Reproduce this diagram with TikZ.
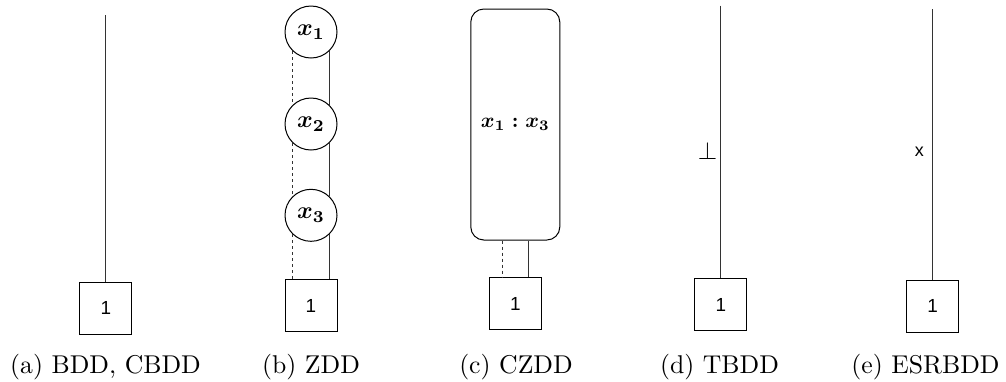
\documentclass[tikz,border=0pt]{standalone}
\usepackage{amsmath}
\usepackage{fontspec}
\newfontfamily\lsans{Liberation Sans}
\usetikzlibrary{calc}
\newcommand{\capt}[1]{\scalebox{2.58}{\fontsize{10}{12}\selectfont #1}}
\newcommand{\mlab}[2]{\scalebox{#1}{\fontsize{10}{12}\selectfont$\boldsymbol{#2}$}}
\tikzset{
  edgeline/.style={line width=1.1bp, draw=black!80},
  dashline/.style={edgeline, dash pattern=on 3bp off 3bp},
  termbox/.style={draw, line width=1bp, minimum width=52bp, minimum height=52bp, inner sep=0pt, font=\lsans\fontsize{19}{21}\selectfont},
  varnode/.style={draw, circle, line width=1bp, minimum size=52bp, inner sep=0pt},
  chainbox/.style={draw, rounded corners=13bp, line width=1bp, minimum width=89bp, minimum height=231bp, inner sep=0pt},
  caption/.style={anchor=base, inner sep=0pt},
  edgelabel/.style={inner sep=0pt}
}
\begin{document}
\begin{tikzpicture}[x=1bp, y=-1bp]
\useasboundingbox (0,0) rectangle (1006,381);
% (a)
\node[termbox] (ta) at (105.8,308.3) {1};
\coordinate (topa) at (105.8,15);
\draw[edgeline] (topa) -- (ta.north);
\node[caption] (capa) at (105.5,373.5) {\capt{(a) BDD, CBDD}};
% (b)
\node[varnode] (x1) at (311,32) {\mlab{2.4}{x_1}};
\node[varnode] (x2) at (311,124) {\mlab{2.4}{x_2}};
\node[varnode] (x3) at (311,215.3) {\mlab{2.4}{x_3}};
\node[termbox] (tb) at (311,305.5) {1};
\draw[dashline] (x1.226) -- (x2.134);
\draw[edgeline] (x1.-46) -- (x2.46);
\draw[dashline] (x2.226) -- (x3.134);
\draw[edgeline] (x2.-46) -- (x3.46);
\draw[dashline] (x3.226) -- (x3.226 |- tb.north);
\draw[edgeline] (x3.-46) -- (x3.-46 |- tb.north);
\node[caption] (capb) at (311,373.5) {\capt{(b) ZDD}};
% (c)
\node[chainbox] (cz) at (515.3,124.5) {\mlab{2.1}{x_1 : x_3}};
\node[termbox] (tc) at (515.3,303.9) {1};
\coordinate (cl) at ($(cz.south)+(-13,0)$);
\coordinate (cr) at ($(cz.south)+(13,0)$);
\draw[dashline] (cl) -- (cl |- tc.north);
\draw[edgeline] (cr) -- (cr |- tc.north);
\node[caption] (capc) at (516,373.5) {\capt{(c) CZDD}};
% (d)
\node[termbox] (td) at (720.8,304.7) {1};
\coordinate (topd) at (720.8,5.7);
\draw[edgeline] (topd) -- (td.north);
\node[edgelabel] (ld) at (707.5,151) {\scalebox{2.5}{\fontsize{10}{12}\selectfont$\perp$}};
\node[caption] (capd) at (719.5,373.5) {\capt{(d) TBDD}};
% (e)
\node[termbox] (te) at (932.6,306.2) {1};
\coordinate (tope) at (932.6,9);
\draw[edgeline] (tope) -- (te.north);
\node[edgelabel] (le) at (919.3,151.5) {\lsans\fontsize{18}{20}\selectfont x};
\node[caption] (cape) at (925.5,373.5) {\capt{(e) ESRBDD}};
\end{tikzpicture}
\end{document}
